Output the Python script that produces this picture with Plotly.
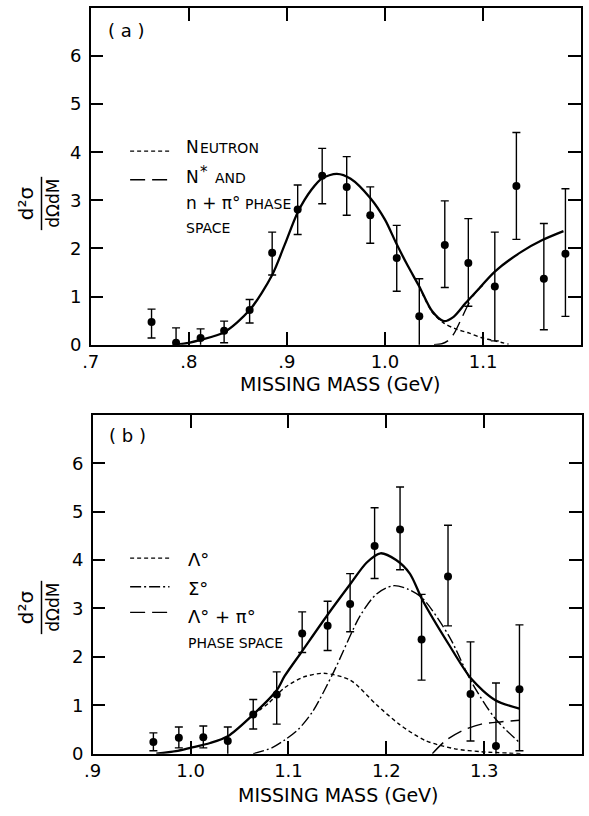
import plotly.graph_objects as go

W, H = 589, 816
FONT = "DejaVu Sans"

# ---------------- Panel (a) data ----------------
a_mass = [0.762, 0.787, 0.812, 0.836, 0.862, 0.885, 0.911, 0.936, 0.961,
          0.985, 1.012, 1.035, 1.061, 1.085, 1.112, 1.134, 1.162, 1.184]
a_xsec = [0.47, 0.04, 0.14, 0.29, 0.72, 1.91, 2.81, 3.51, 3.28,
          2.69, 1.80, 0.59, 2.07, 1.70, 1.21, 3.30, 1.37, 1.89]
a_err_plus = [0.27, 0.31, 0.19, 0.20, 0.22, 0.43, 0.51, 0.57, 0.63,
              0.59, 0.68, 0.78, 0.92, 0.92, 1.13, 1.11, 1.15, 1.35]
a_err_minus = [0.33, 0.29, 0.20, 0.25, 0.27, 0.46, 0.52, 0.58, 0.59,
               0.58, 0.69, 0.79, 0.88, 0.90, 1.13, 1.11, 1.06, 1.30]

a_fit_x = [0.787, 0.800, 0.812, 0.836, 0.862, 0.885, 0.898, 0.911, 0.925,
           0.936, 0.951, 0.965, 0.985, 1.000, 1.011, 1.023, 1.035, 1.048,
           1.060, 1.070, 1.082, 1.096, 1.112, 1.139, 1.160, 1.182]
a_fit_y = [0.00, 0.04, 0.10, 0.26, 0.72, 1.45, 2.09, 2.75, 3.22,
           3.46, 3.55, 3.45, 3.05, 2.60, 2.13, 1.65, 1.21, 0.70,
           0.49, 0.58, 0.86, 1.17, 1.52, 1.93, 2.17, 2.36]

a_neutron_x = [1.035, 1.048, 1.060, 1.072, 1.086, 1.098, 1.112, 1.126]
a_neutron_y = [1.21, 0.68, 0.45, 0.33, 0.24, 0.15, 0.08, 0.01]

a_nstar_x = [1.050, 1.058, 1.064, 1.070, 1.077, 1.084, 1.092, 1.100]
a_nstar_y = [0.00, 0.02, 0.08, 0.22, 0.50, 0.80, 1.08, 1.24]

a_xticks = [0.7, 0.8, 0.9, 1.0, 1.1, 1.2]
a_xticktext = [".7", ".8", ".9", "1.0", "1.1", "1.2"]

# ---------------- Panel (b) data ----------------
b_mass = [0.962, 0.988, 1.013, 1.038, 1.064, 1.088, 1.114, 1.140,
          1.163, 1.188, 1.214, 1.236, 1.263, 1.286, 1.312, 1.336]
b_xsec = [0.24, 0.33, 0.34, 0.26, 0.81, 1.22, 2.48, 2.64,
          3.09, 4.29, 4.63, 2.36, 3.66, 1.23, 0.16, 1.33]
b_err_plus = [0.19, 0.22, 0.23, 0.29, 0.31, 0.47, 0.45, 0.51,
              0.63, 0.79, 0.88, 0.93, 1.06, 1.08, 1.30, 1.33]
b_err_minus = [0.18, 0.21, 0.22, 0.28, 0.30, 0.61, 0.39, 0.51,
               0.57, 0.67, 0.83, 0.84, 1.02, 0.97, 1.22, 1.27]

b_fit_x = [0.965, 0.985, 1.000, 1.020, 1.038, 1.064, 1.088, 1.096, 1.114,
           1.140, 1.163, 1.180, 1.194, 1.210, 1.224, 1.237, 1.264, 1.287,
           1.311, 1.336]
b_fit_y = [0.00, 0.05, 0.12, 0.22, 0.36, 0.81, 1.31, 1.60, 2.12,
           2.87, 3.50, 3.95, 4.14, 4.00, 3.72, 3.17, 2.25, 1.54,
           1.11, 0.93]

b_lambda_x = [1.064, 1.080, 1.096, 1.115, 1.136, 1.163, 1.190, 1.213,
              1.240, 1.270, 1.297, 1.337]
b_lambda_y = [0.80, 1.05, 1.36, 1.58, 1.66, 1.52, 1.01, 0.61,
              0.27, 0.10, 0.04, 0.00]

b_sigma_x = [1.064, 1.083, 1.096, 1.110, 1.125, 1.146, 1.173, 1.190,
             1.207, 1.222, 1.237, 1.264, 1.287, 1.311, 1.336]
b_sigma_y = [0.00, 0.12, 0.28, 0.50, 0.88, 1.68, 2.84, 3.30,
             3.47, 3.40, 3.21, 2.43, 1.48, 0.73, 0.23]

b_phase_x = [1.247, 1.260, 1.277, 1.297, 1.318, 1.336]
b_phase_y = [0.00, 0.26, 0.47, 0.61, 0.66, 0.69]

b_xticks = [0.9, 1.0, 1.1, 1.2, 1.3, 1.4]
b_xticktext = [".9", "1.0", "1.1", "1.2", "1.3", "1.4"]

y_ticks = [0, 1, 2, 3, 4, 5, 6]

# ---------------- styles ----------------
SHORT = "4px,3px"
LONG = "15px,7px"
DASHDOT = "11px,3px,2px,3px"


def px_x(p):
    return p / W


def px_y(p):
    return 1 - p / H


fig = go.Figure()


def add_points(x, y, ep, em, xa, ya):
    fig.add_trace(go.Scatter(
        x=x, y=y, mode="markers", xaxis=xa, yaxis=ya,
        marker=dict(color="black", size=8),
        error_y=dict(type="data", symmetric=False, array=ep, arrayminus=em,
                     color="black", thickness=1.4, width=4),
        cliponaxis=False, showlegend=False, hoverinfo="skip"))


def add_curve(x, y, xa, ya, dash="solid", width=1.5):
    fig.add_trace(go.Scatter(
        x=x, y=y, mode="lines", xaxis=xa, yaxis=ya,
        line=dict(color="black", width=width, dash=dash, shape="spline",
                  smoothing=0.8),
        showlegend=False, hoverinfo="skip"))


# panel a
add_curve(a_neutron_x, a_neutron_y, "x", "y", SHORT, 1.4)
add_curve(a_nstar_x, a_nstar_y, "x", "y", LONG, 1.4)
add_curve(a_fit_x, a_fit_y, "x", "y", "solid", 2.3)
add_points(a_mass, a_xsec, a_err_plus, a_err_minus, "x", "y")

# panel b
add_curve(b_lambda_x, b_lambda_y, "x2", "y2", SHORT, 1.4)
add_curve(b_sigma_x, b_sigma_y, "x2", "y2", DASHDOT, 1.4)
add_curve(b_phase_x, b_phase_y, "x2", "y2", LONG, 1.4)
add_curve(b_fit_x, b_fit_y, "x2", "y2", "solid", 2.3)
add_points(b_mass, b_xsec, b_err_plus, b_err_minus, "x2", "y2")

axis_common = dict(
    showline=True, linecolor="black", linewidth=1.5, mirror="ticks",
    ticks="inside", ticklen=13, tickwidth=1.5, tickcolor="black",
    showgrid=False, zeroline=False,
    tickfont=dict(family=FONT, size=18, color="black"),
)

fig.update_layout(
    width=W, height=H, autosize=False,
    margin=dict(l=0, r=0, t=0, b=0),
    paper_bgcolor="white", plot_bgcolor="white",
    xaxis=dict(domain=[px_x(83), px_x(581)], range=[0.7, 1.2],
               tickvals=a_xticks, ticktext=a_xticktext, anchor="y",
               **axis_common),
    yaxis=dict(domain=[px_y(349), px_y(8)], range=[0, 7],
               tickvals=y_ticks, anchor="x", ticklabelstandoff=4,
               **axis_common),
    xaxis2=dict(domain=[px_x(85), px_x(582)], range=[0.9, 1.4],
                tickvals=b_xticks, ticktext=b_xticktext, anchor="y2",
                **axis_common),
    yaxis2=dict(domain=[px_y(763), px_y(420)], range=[0, 7],
                tickvals=y_ticks, anchor="x2", ticklabelstandoff=4,
                **axis_common),
)

annotations = []
shapes = []


def text(px, py, s, size=16, xanchor="left", yanchor="middle", angle=0):
    annotations.append(dict(
        x=px_x(px), y=px_y(py), xref="paper", yref="paper", text=s,
        showarrow=False, xanchor=xanchor, yanchor=yanchor, textangle=angle,
        font=dict(family=FONT, size=size, color="black")))


def legline(x0, x1, py, dash):
    shapes.append(dict(type="line", xref="paper", yref="paper",
                       x0=px_x(x0), x1=px_x(x1), y0=px_y(py), y1=px_y(py),
                       line=dict(color="black", width=1.4, dash=dash)))


# panel labels
text(98, 31, "( a )", 18)
text(100, 441, "( b )", 18)

# axis titles
text(336, 389, "MISSING MASS (GeV)", 19, xanchor="center")
text(334, 805, "MISSING MASS (GeV)", 19, xanchor="center")

# y titles: fraction d2sigma / dOmega dM
for cy in (206, 615):
    text(18, cy, "d²σ", 20, xanchor="center", angle=-90)
    text(45, cy, "dΩdM", 17, xanchor="center", angle=-90)
    shapes.append(dict(type="line", xref="paper", yref="paper",
                       x0=px_x(33), x1=px_x(33), y0=px_y(cy - 27),
                       y1=px_y(cy + 27), line=dict(color="black", width=1.5)))

# legend panel a (small-caps lettering built from pieces)
legline(123, 163, 153, SHORT)
text(178, 149, "N", 17)
text(192, 150, "EUTRON", 14)
legline(123, 163, 182, LONG)
text(178, 179, "N", 17)
text(192, 174, "*", 15)
text(207, 180, "AND", 14)
text(178, 206, "n + π°", 17)
text(238, 207, "PHASE", 14)
text(178, 231, "SPACE", 14)

# legend panel b
legline(123, 163, 565, SHORT)
text(180, 566, "Λ°", 18)
legline(123, 163, 594, DASHDOT)
text(180, 596, "Σ°", 18)
legline(123, 163, 620, LONG)
text(180, 624, "Λ° + π°", 18)
text(180, 651, "PHASE SPACE", 14)

fig.update_layout(annotations=annotations, shapes=shapes)

fig.write_html("out.html")
